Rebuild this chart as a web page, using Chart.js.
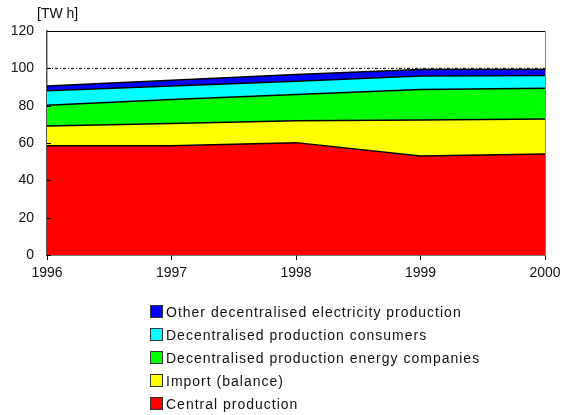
<!DOCTYPE html>
<html>
<head>
<meta charset="utf-8">
<script src="https://cdn.jsdelivr.net/npm/chart.js@4"></script>
<style>
  body { margin: 0; background: #fff; }
  #wrap { position: relative; width: 575px; height: 415px; }
  #legend { position: absolute; left: 150px; top: 300px; font: 14px "Liberation Sans", Arial, sans-serif; color: #111; letter-spacing: 1px; }
  #legend div { height: 23px; display: flex; align-items: center; }
  #legend span.box { display: inline-block; width: 11px; height: 11px; border: 1px solid #333; margin-right: 3px; }
</style>
</head>
<body>
<div id="wrap">
  <canvas id="chart" width="575" height="415"></canvas>
  <div id="legend"></div>
</div>
<script>
const years = ['1996', '1997', '1998', '1999', '2000'];
const central = [58.5, 58.5, 60.2, 53.0, 54.1];
const importBalance = [10.6, 12.0, 11.7, 19.3, 18.7];
const decEnergyCompanies = [11.1, 12.8, 14.1, 16.4, 16.5];
const decConsumers = [7.8, 7.3, 7.1, 7.2, 6.9];
const otherDecentral = [2.5, 3.0, 3.6, 3.5, 3.2];
const refLine = [100, 100, 100, 100, 100];

const series = [
    { label: 'Central production', data: central, color: '#ff0000' },
    { label: 'Import (balance)', data: importBalance, color: '#ffff00' },
    { label: 'Decentralised production energy companies', data: decEnergyCompanies, color: '#00ff00' },
    { label: 'Decentralised production consumers', data: decConsumers, color: '#00ffff' },
    { label: 'Other decentralised electricity production', data: otherDecentral, color: '#0000ff' }
];

const datasets = series.map((s, i) => ({
    label: s.label,
    data: s.data,
    backgroundColor: s.color,
    borderColor: '#000',
    borderWidth: 1.5,
    pointRadius: 0,
    tension: 0,
    fill: i === 0 ? 'origin' : '-1',
    stack: 'energy'
}));
datasets.push({
    label: 'ref',
    data: refLine,
    borderColor: '#000',
    borderWidth: 1,
    borderDash: [3, 2, 1, 2],
    pointRadius: 0,
    fill: false,
    stack: 'ref'
});

const extras = {
    id: 'extras',
    afterDraw(chart) {
        const { ctx, chartArea: a } = chart;
        const y = chart.scales.y;
        ctx.save();
        ctx.lineWidth = 1;
        ctx.strokeStyle = '#000';
        ctx.beginPath();
        ctx.moveTo(a.left, a.top + 0.5);
        ctx.lineTo(a.right, a.top + 0.5);
        ctx.stroke();
        ctx.strokeStyle = '#888';
        ctx.beginPath();
        ctx.moveTo(a.right + 0.5, a.top);
        ctx.lineTo(a.right + 0.5, a.bottom);
        ctx.stroke();
        // small inward ticks on the value axis
        ctx.strokeStyle = '#000';
        y.ticks.forEach(t => {
            const py = Math.round(y.getPixelForValue(t.value)) + 0.5;
            ctx.beginPath();
            ctx.moveTo(a.left, py);
            ctx.lineTo(a.left + 4, py);
            ctx.stroke();
        });
        ctx.fillStyle = '#111';
        ctx.font = '14px "Liberation Sans", Arial, sans-serif';
        ctx.textAlign = 'left';
        ctx.textBaseline = 'middle';
        ctx.fillText('[TW h]', 37, 14);
        ctx.restore();
    }
};

new Chart(document.getElementById('chart'), {
    type: 'line',
    data: { labels: years, datasets: datasets },
    options: {
        responsive: false,
        animation: false,
        layout: { padding: { top: 31, right: 30, bottom: 130, left: 0 } },
        plugins: { legend: { display: false }, tooltip: { enabled: false } },
        scales: {
            x: {
                offset: false,
                afterFit: s => { s.height = 30; },
                grid: { display: true, drawOnChartArea: false, color: '#000', tickLength: 5 },
                border: { color: '#000', width: 1.5 },
                ticks: { color: '#111', font: { family: 'Liberation Sans', size: 14 }, padding: 5, maxRotation: 0 }
            },
            y: {
                stacked: true,
                min: 0,
                max: 120,
                afterFit: s => { s.width = 47; },
                grid: { display: false },
                border: { color: '#555', width: 1.5 },
                ticks: { stepSize: 20, color: '#111', font: { family: 'Liberation Sans', size: 14 }, padding: 5 }
            }
        }
    },
    plugins: [extras]
});

const legend = document.getElementById('legend');
series.slice().reverse().forEach(s => {
    const row = document.createElement('div');
    row.innerHTML = '<span class="box" style="background:' + s.color + '"></span>' + s.label;
    legend.appendChild(row);
});
</script>
</body>
</html>
